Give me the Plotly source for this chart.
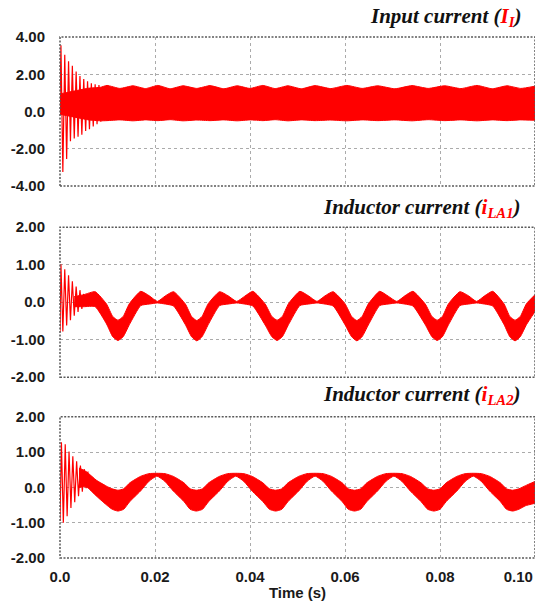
import plotly.graph_objects as go

RED = "#ff0000"

# ---------------- shared time axis ----------------
time_ticks = [0.0, 0.02, 0.04, 0.06, 0.08, 0.10]
time_labels = ["0.0", "0.02", "0.04", "0.06", "0.08",
               "0.10\u00a0\u00a0\u00a0\u00a0\u00a0\u00a0\u00a0\u00a0"]

# ---------------- Input current I_I ----------------
ii_ticks = [-4, -2, 0, 2, 4]
ii_labels = ["-4.00", "-2.00", "0.0", "2.00", "4.00"]
# start-up ringing: alternating peak values
ii_ring_t = [0.0000, 0.0002, 0.0006, 0.0010, 0.0014, 0.0018, 0.0022, 0.0026, 0.0030, 0.0034,
             0.0038, 0.0042, 0.0046, 0.0050, 0.0054, 0.0058, 0.0062, 0.0066, 0.0070, 0.0074,
             0.0078, 0.0082, 0.0086]
ii_ring_v = [0.30, 3.55, -3.25, 3.05, -2.55, 2.70, -1.60, 2.45, -1.45, 2.15,
             -1.35, 1.90, -1.25, 1.75, -1.05, 1.62, -0.95, 1.52, -0.80, 1.46,
             -0.68, 1.42, -0.55]
# upper / lower envelope of the switching-ripple band
ii_band_t = [0.0000, 0.0020, 0.0040, 0.0060, 0.0085, 0.0099, 0.0126, 0.0154, 0.0180, 0.0206,
             0.0232, 0.0259, 0.0288, 0.0316, 0.0345, 0.0373, 0.0400, 0.0427, 0.0453, 0.0480,
             0.0508, 0.0537, 0.0570, 0.0604, 0.0636, 0.0669, 0.0705, 0.0741, 0.0775, 0.0810,
             0.0844, 0.0878, 0.0910, 0.0941, 0.0970, 0.1000]
ii_band_hi = [0.95, 1.05, 1.15, 1.25, 1.30, 1.40, 1.24, 1.38, 1.23, 1.40,
              1.22, 1.38, 1.24, 1.39, 1.22, 1.38, 1.24, 1.40, 1.23, 1.38,
              1.22, 1.39, 1.23, 1.40, 1.24, 1.38, 1.22, 1.39, 1.24, 1.38,
              1.23, 1.40, 1.22, 1.38, 1.24, 1.36]
ii_band_lo = [-0.15, -0.25, -0.35, -0.45, -0.50, -0.49, -0.45, -0.50, -0.45, -0.49,
              -0.44, -0.50, -0.46, -0.49, -0.45, -0.50, -0.45, -0.49, -0.44, -0.50,
              -0.45, -0.49, -0.46, -0.50, -0.45, -0.49, -0.45, -0.50, -0.44, -0.49,
              -0.45, -0.50, -0.45, -0.49, -0.45, -0.47]

# ---------------- Inductor current i_LA1 ----------------
la_ticks = [-2, -1, 0, 1, 2]
la_labels = ["-2.00", "-1.00", "0.0", "1.00", "2.00"]
la1_ring_t = [0.0000, 0.0002, 0.0006, 0.0010, 0.0014, 0.0018, 0.0022, 0.0026, 0.0030, 0.0034,
              0.0038, 0.0042, 0.0046, 0.0050]
la1_ring_v = [-0.80, 1.01, -0.78, 0.88, -0.62, 0.72, -0.48, 0.56, -0.36, 0.42,
              -0.26, 0.32, -0.18, 0.22]
la1_band_t = [0.0030, 0.0050, 0.0074, 0.0098, 0.0111,
              0.0122, 0.0133, 0.0146, 0.0170, 0.0188, 0.0205, 0.0222, 0.0239, 0.0264, 0.0277,
              0.0288, 0.0299, 0.0312, 0.0336, 0.0354, 0.0372, 0.0389, 0.0406, 0.0432, 0.0446,
              0.0457, 0.0468, 0.0481, 0.0505, 0.0523, 0.0541, 0.0558, 0.0575, 0.0600, 0.0614,
              0.0625, 0.0636, 0.0649, 0.0673, 0.0691, 0.0709, 0.0726, 0.0743, 0.0769, 0.0783,
              0.0794, 0.0805, 0.0818, 0.0842, 0.0860, 0.0877, 0.0894, 0.0911, 0.0935, 0.0947,
              0.0958, 0.0969, 0.0982, 0.1000]
la1_band_hi = [0.15, 0.20, 0.28, -0.05, -0.38,
               -0.48, -0.38, -0.04, 0.29, 0.17, 0.02, 0.17, 0.28, -0.05, -0.38,
               -0.49, -0.38, -0.04, 0.28, 0.17, 0.02, 0.16, 0.29, -0.05, -0.38,
               -0.48, -0.38, -0.04, 0.29, 0.17, 0.02, 0.17, 0.28, -0.04, -0.38,
               -0.49, -0.38, -0.05, 0.29, 0.16, 0.02, 0.17, 0.29, -0.05, -0.38,
               -0.48, -0.38, -0.04, 0.28, 0.17, 0.02, 0.17, 0.29, -0.05, -0.38,
               -0.48, -0.38, -0.04, 0.20]
la1_band_lo = [-0.12, -0.12, -0.12, -0.58, -0.92,
               -1.02, -0.92, -0.60, -0.09, -0.05, -0.02, -0.05, -0.10, -0.60, -0.92,
               -1.03, -0.92, -0.60, -0.09, -0.05, -0.02, -0.05, -0.10, -0.61, -0.92,
               -1.02, -0.92, -0.60, -0.09, -0.05, -0.02, -0.05, -0.10, -0.60, -0.92,
               -1.03, -0.92, -0.61, -0.09, -0.05, -0.02, -0.05, -0.10, -0.60, -0.92,
               -1.02, -0.92, -0.60, -0.09, -0.05, -0.02, -0.05, -0.10, -0.60, -0.92,
               -1.03, -0.92, -0.60, -0.25]

# ---------------- Inductor current i_LA2 ----------------
la2_ring_t = [0.0000, 0.0003, 0.0007, 0.0011, 0.0015, 0.0019, 0.0023, 0.0027, 0.0031, 0.0035,
              0.0039, 0.0043, 0.0047, 0.0051, 0.0055, 0.0059]
la2_ring_v = [-0.95, 1.28, -1.00, 1.22, -0.82, 1.02, -0.58, 0.88, -0.42, 0.74,
              -0.25, 0.62, -0.12, 0.52, -0.02, 0.45]
la2_band_t = [0.0040, 0.0055, 0.0077, 0.0100, 0.0110,
              0.0122, 0.0134, 0.0147, 0.0169, 0.0187, 0.0204, 0.0221, 0.0239, 0.0261, 0.0274,
              0.0287, 0.0300, 0.0313, 0.0335, 0.0353, 0.0370, 0.0387, 0.0405, 0.0427, 0.0441,
              0.0454, 0.0467, 0.0480, 0.0502, 0.0520, 0.0537, 0.0554, 0.0572, 0.0594, 0.0607,
              0.0620, 0.0633, 0.0646, 0.0668, 0.0686, 0.0703, 0.0720, 0.0738, 0.0760, 0.0774,
              0.0787, 0.0800, 0.0813, 0.0835, 0.0853, 0.0870, 0.0887, 0.0905, 0.0927, 0.0940,
              0.0953, 0.0966, 0.0980, 0.1000]
la2_band_hi = [0.55, 0.45, 0.20, 0.02, -0.04,
               -0.08, -0.04, 0.13, 0.31, 0.39, 0.40, 0.39, 0.31, 0.13, -0.04,
               -0.08, -0.04, 0.13, 0.31, 0.39, 0.40, 0.39, 0.31, 0.13, -0.04,
               -0.08, -0.04, 0.13, 0.31, 0.39, 0.40, 0.39, 0.31, 0.13, -0.04,
               -0.08, -0.04, 0.13, 0.31, 0.39, 0.40, 0.39, 0.31, 0.13, -0.04,
               -0.08, -0.04, 0.13, 0.31, 0.39, 0.40, 0.39, 0.31, 0.13, -0.04,
               -0.08, -0.04, 0.05, 0.17]
la2_band_lo = [0.00, 0.02, -0.25, -0.52, -0.62,
               -0.67, -0.62, -0.40, -0.11, 0.17, 0.32, 0.17, -0.11, -0.40, -0.62,
               -0.67, -0.62, -0.40, -0.11, 0.17, 0.32, 0.17, -0.11, -0.40, -0.62,
               -0.67, -0.62, -0.40, -0.11, 0.17, 0.32, 0.17, -0.11, -0.40, -0.62,
               -0.67, -0.62, -0.40, -0.11, 0.17, 0.32, 0.17, -0.11, -0.40, -0.62,
               -0.67, -0.62, -0.40, -0.11, 0.17, 0.32, 0.17, -0.11, -0.40, -0.62,
               -0.67, -0.62, -0.52, -0.45]

fig = go.Figure()


def add_band(t, hi, lo, xa, ya):
    edge = dict(color=RED, width=1, shape="spline", smoothing=0.5)
    fig.add_trace(go.Scatter(x=t, y=hi, mode="lines", line=edge, xaxis=xa, yaxis=ya,
                             hoverinfo="skip", showlegend=False))
    fig.add_trace(go.Scatter(x=t, y=lo, mode="lines", line=edge, xaxis=xa, yaxis=ya,
                             fill="tonexty", fillcolor=RED, hoverinfo="skip", showlegend=False))


def add_ring(t, v, xa, ya):
    fig.add_trace(go.Scatter(x=t, y=v, mode="lines", line=dict(color=RED, width=1.2),
                             xaxis=xa, yaxis=ya, hoverinfo="skip", showlegend=False))


add_band(ii_band_t, ii_band_hi, ii_band_lo, "x", "y")
add_ring(ii_ring_t, ii_ring_v, "x", "y")
add_band(la1_band_t, la1_band_hi, la1_band_lo, "x2", "y2")
add_ring(la1_ring_t, la1_ring_v, "x2", "y2")
add_band(la2_band_t, la2_band_hi, la2_band_lo, "x3", "y3")
add_ring(la2_ring_t, la2_ring_v, "x3", "y3")

tick_font = dict(family="Liberation Sans, Arial", size=15, color="#1a1a1a", weight="bold")
grid = dict(showgrid=True, gridcolor="#ababab", griddash="dot", gridwidth=1,
            zeroline=False, showline=False, ticks="")

x_common = dict(grid, range=[0, 0.1], tickvals=time_ticks, domain=[0, 1],
                automargin=False, tickfont=tick_font, ticklabeloverflow="allow")
y_common = dict(grid, tickfont=tick_font, ticklabelstandoff=14, automargin=False)

fig.update_layout(
    width=535, height=601,
    margin=dict(l=60, r=0, t=37, b=43),
    paper_bgcolor="white", plot_bgcolor="white",
    xaxis=dict(x_common, anchor="y", showticklabels=False),
    xaxis2=dict(x_common, anchor="y2", matches="x", showticklabels=False),
    xaxis3=dict(x_common, anchor="y3", matches="x", ticktext=time_labels,
                ticklabelstandoff=8,
                title=dict(text="Time (s)", standoff=4,
                           font=dict(family="Liberation Sans, Arial", size=15,
                                     color="#1a1a1a", weight="bold"))),
    yaxis=dict(y_common, domain=[0.714, 1.0], anchor="x", range=[-4, 4],
               tickvals=ii_ticks, ticktext=ii_labels),
    yaxis2=dict(y_common, domain=[0.347, 0.635], anchor="x2", range=[-2, 2],
                tickvals=la_ticks, ticktext=la_labels),
    yaxis3=dict(y_common, domain=[0.0, 0.271], anchor="x3", range=[-2, 2],
                tickvals=la_ticks, ticktext=la_labels),
)

# dotted frame around every panel
for xr, yr in (("x", "y"), ("x2", "y2"), ("x3", "y3")):
    fig.add_shape(type="rect", xref=f"{xr} domain", yref=f"{yr} domain",
                  x0=0, x1=1, y0=0, y1=1, layer="above",
                  line=dict(color="#5a5a5a", width=1.5, dash="2px,1.5px"))

title_font = dict(family="Liberation Serif, Times New Roman", size=21, color="#111111")
titles = [
    ("Input current (<span style='color:#ff0000'>I<sub>I</sub></span>)", 1.038),
    ("Inductor current (<span style='color:#ff0000'>i<sub>LA1</sub></span>)", 0.672),
    ("Inductor current (<span style='color:#ff0000'>i<sub>LA2</sub></span>)", 0.313),
]
for text, ypos in titles:
    fig.add_annotation(text=f"<b><i>{text}</i></b>", xref="paper", yref="paper",
                       x=0.975, y=ypos, xanchor="right", yanchor="middle",
                       showarrow=False, font=title_font)

fig.write_html("out.html")
